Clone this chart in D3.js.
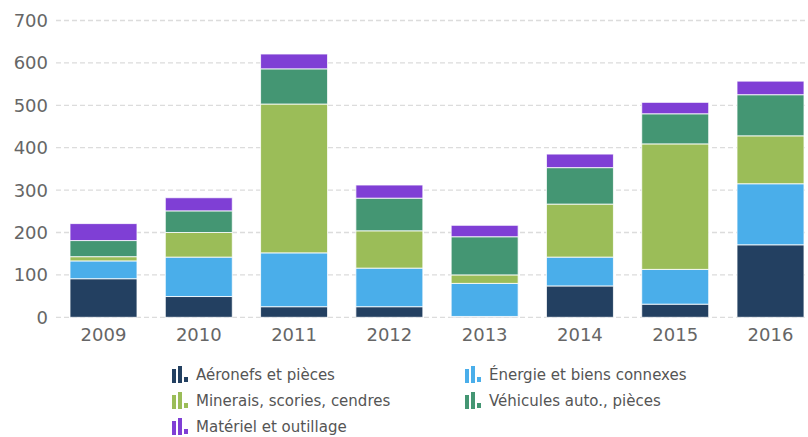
<!DOCTYPE html>
<html>
<head>
<meta charset="utf-8">
<script src="https://cdn.jsdelivr.net/npm/d3@7"></script>
<style>
body{margin:0;background:#fff;}
text{font-family:"DejaVu Sans",sans-serif;}
</style>
</head>
<body>
<script>
var years = ["2009","2010","2011","2012","2013","2014","2015","2016"];
var seriesNames = ["Aéronefs et pièces","Énergie et biens connexes","Minerais, scories, cendres","Véhicules auto., pièces","Matériel et outillage"];
var aeronefs   = [91, 49, 25, 25, 2, 74, 31, 171];
var energie    = [42, 93, 127, 91, 78, 68, 82, 144];
var minerais   = [10, 58, 351, 88, 20, 125, 296, 113];
var vehicules  = [38, 51, 83, 77, 90, 86, 71, 97];
var materiel   = [40, 31, 35, 31, 27, 32, 27, 32];
var yTicks = [0,100,200,300,400,500,600,700];
var colors = ["#234061","#4aaeea","#9bbd58","#449673","#7f3fd5"];

var width=808,height=437;
var svg = d3.select("body").append("svg")
	.attr("width", width).attr("height", height);

var rows = years.map(function(y,i){
	return {year:y, a:aeronefs[i], e:energie[i], m:minerais[i], v:vehicules[i], t:materiel[i]};
});
var keys = ["a","e","m","v","t"];
var stacked = d3.stack().keys(keys)(rows);

var x = d3.scaleBand().domain(years).range([56, 818]).paddingInner(0.297).paddingOuter(0.147);
var y = d3.scaleLinear().domain([0,700]).range([317.3, 20.5]);

// grid
svg.append("g").selectAll("line").data(yTicks).enter().append("line")
	.attr("x1", 56).attr("x2", width)
	.attr("y1", function(d){return y(d);}).attr("y2", function(d){return y(d);})
	.attr("stroke", "#dcdcdc").attr("stroke-width", 1.3)
	.attr("stroke-dasharray", "5,3");

svg.append("g").selectAll("text").data(yTicks).enter().append("text")
	.attr("x", 48).attr("y", function(d){return y(d);})
	.attr("dy", "0.36em").attr("text-anchor", "end")
	.attr("font-size", 18).attr("fill", "#666")
	.text(function(d){return d;});

svg.append("g").selectAll("text").data(years).enter().append("text")
	.attr("x", function(d){return x(d)+x.bandwidth()/2;}).attr("y", 341)
	.attr("text-anchor", "middle")
	.attr("font-size", 18).attr("fill", "#666")
	.text(function(d){return d;});

// bars
svg.append("g").selectAll("g").data(stacked).enter().append("g")
	.attr("fill", function(d,i){return colors[i];})
	.selectAll("rect").data(function(d){return d;}).enter().append("rect")
	.attr("x", function(d){return x(d.data.year);})
	.attr("width", x.bandwidth())
	.attr("y", function(d){return y(d[1]);})
	.attr("height", function(d){return y(d[0])-y(d[1]);})
	.attr("stroke", "#fff").attr("stroke-opacity", 0.8).attr("stroke-width", 1);

// legend
var legendPos = [[172,375],[465,375],[172,401],[465,401],[172,427]];
var lg = svg.append("g").selectAll("g").data(seriesNames).enter().append("g")
	.attr("transform", function(d,i){return "translate("+legendPos[i][0]+","+legendPos[i][1]+")";});
var iconBars = [[0,-6,4,14],[6,-9,4,17],[12,2,4,5]];
lg.each(function(d,i){
	var g = d3.select(this);
	g.selectAll("rect").data(iconBars).enter().append("rect")
		.attr("x", function(b){return b[0];}).attr("y", function(b){return b[1];})
		.attr("width", function(b){return b[2];}).attr("height", function(b){return b[3];})
		.attr("fill", colors[i]);
});
lg.append("text").attr("x", 24).attr("y", 0).attr("dy", "0.36em")
	.attr("font-size", 15).attr("fill", "#555")
	.text(function(d){return d;});
</script>
</body>
</html>
